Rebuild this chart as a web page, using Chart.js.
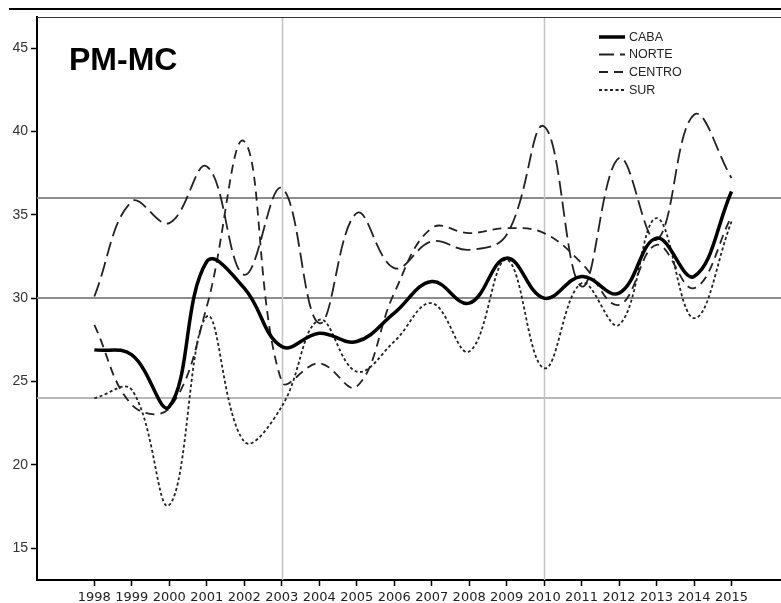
<!DOCTYPE html>
<html>
<head>
<meta charset="utf-8">
<script src="https://cdn.jsdelivr.net/npm/chart.js@4.4.1/dist/chart.umd.min.js"></script>
<style>
  html, body { margin: 0; padding: 0; background: #fff; }
  canvas { display: block; }
</style>
</head>
<body>
<canvas id="c" width="781" height="603"></canvas>
<script>
// ---- data ----
const years  = [1998,1999,2000,2001,2002,2003,2004,2005,2006,2007,2008,2009,2010,2011,2012,2013,2014,2015];
const caba   = [26.9,26.6,23.5,32.2,30.6,27.1,27.9,27.4,29.1,31.0,29.7,32.4,30.0,31.3,30.3,33.6,31.3,36.4];
const norte  = [30.1,35.8,34.5,37.9,31.4,36.6,28.5,35.1,31.8,33.4,32.9,33.8,40.3,30.7,38.4,33.5,41.0,37.2];
const centro = [28.4,23.6,23.4,29.5,39.4,25.0,26.1,24.7,30.3,34.2,33.9,34.2,33.9,32.1,29.6,33.2,30.6,34.9];
const sur    = [24.0,24.5,17.6,28.9,21.4,23.5,28.7,25.6,27.4,29.7,26.8,32.3,25.8,30.9,28.4,34.8,28.8,34.6];
const yTicks = [15,20,25,30,35,40,45];
const refY   = [36,30,24];
const refX   = [2003,2010];
const seriesNames = ['CABA','NORTE','CENTRO','SUR'];
const titleText = 'PM-MC';

const pts = arr => years.map((y,i) => ({x:y, y:arr[i]}));

const styles = [
  {borderColor:'#000', borderWidth:3.5, borderDash:[]},
  {borderColor:'#222', borderWidth:1.8, borderDash:[15,6]},
  {borderColor:'#222', borderWidth:1.8, borderDash:[9,6]},
  {borderColor:'#222', borderWidth:1.8, borderDash:[3,2.5]}
];
const seriesData = [caba, norte, centro, sur];

const datasets = seriesData.map((d,i) => Object.assign({
  label: seriesNames[i],
  data: pts(d),
  pointRadius: 0,
  tension: 0.4,
  fill: false
}, styles[i]));

const decor = {
  id:'decor',
  beforeDatasetsDraw(chart){
    const {ctx, chartArea:a, scales:{x,y}} = chart;
    ctx.save();
    refY.forEach(v => {
      const py = Math.round(y.getPixelForValue(v));
      ctx.strokeStyle = v === 24 ? '#b8b8b8' : '#8c8c8c';
      ctx.lineWidth = 2;
      ctx.beginPath(); ctx.moveTo(a.left, py); ctx.lineTo(a.right, py); ctx.stroke();
    });
    refX.forEach(v => {
      const px = Math.round(x.getPixelForValue(v)) + 0.5;
      ctx.strokeStyle = '#c4c4c4';
      ctx.lineWidth = 1.5;
      ctx.beginPath(); ctx.moveTo(px, a.top); ctx.lineTo(px, a.bottom); ctx.stroke();
    });
    ctx.restore();
  },
  afterDraw(chart){
    const {ctx, chartArea:a} = chart;
    ctx.save();
    // page rule and plot top border
    ctx.strokeStyle = '#000'; ctx.lineWidth = 2;
    ctx.beginPath(); ctx.moveTo(9, 9); ctx.lineTo(781, 9); ctx.stroke();
    ctx.strokeStyle = '#333'; ctx.lineWidth = 1.2;
    ctx.beginPath(); ctx.moveTo(a.left, a.top + 0.5); ctx.lineTo(a.right, a.top + 0.5); ctx.stroke();
    // title
    ctx.fillStyle = '#000';
    ctx.font = 'bold 32px "Liberation Sans", Arial, sans-serif';
    ctx.textBaseline = 'alphabetic';
    ctx.fillText(titleText, 69, 70);
    // legend
    ctx.font = '12.5px "Liberation Sans", Arial, sans-serif';
    ctx.textBaseline = 'middle';
    const rows = [37, 54.5, 72, 90];
    chart.data.datasets.forEach((ds, i) => {
      const yy = rows[i];
      ctx.strokeStyle = ds.borderColor;
      ctx.lineWidth = ds.borderWidth;
      ctx.setLineDash(ds.borderDash);
      ctx.beginPath(); ctx.moveTo(599, yy); ctx.lineTo(625, yy); ctx.stroke();
      ctx.setLineDash([]);
      ctx.fillStyle = '#222';
      ctx.fillText(ds.label, 629, yy + 0.5);
    });
    ctx.restore();
  }
};

new Chart(document.getElementById('c'), {
  type:'line',
  data:{ datasets },
  plugins:[decor],
  options:{
    responsive:false,
    animation:false,
    layout:{ padding:{ top:17, left:0, right:0, bottom:0 } },
    plugins:{ legend:{display:false}, tooltip:{enabled:false}, title:{display:false} },
    scales:{
      x:{
        type:'linear', min:1996.47, max:2016.32,
        afterBuildTicks: s => { s.ticks = years.map(v => ({value:v})); },
        afterFit: s => { s.height = 23; },
        grid:{ drawOnChartArea:false, drawTicks:true, tickLength:6, tickColor:'#000', tickWidth:1.5 },
        border:{ display:true, color:'#000', width:2 },
        ticks:{ autoSkip:false, maxRotation:0, padding:4, color:'#222',
                font:{ family:'"DejaVu Sans", sans-serif', size:13 },
                callback: v => String(v) }
      },
      y:{
        type:'linear', min:13.1, max:46.86,
        afterBuildTicks: s => { s.ticks = yTicks.map(v => ({value:v})); },
        afterFit: s => { s.width = 37; },
        grid:{ drawOnChartArea:false, drawTicks:true, tickLength:6, tickColor:'#000', tickWidth:1.5 },
        border:{ display:true, color:'#000', width:2 },
        ticks:{ padding:3, color:'#333',
                font:{ family:'"Liberation Sans", Arial, sans-serif', size:14 },
                callback: v => String(v) }
      }
    }
  }
});
</script>
</body>
</html>
